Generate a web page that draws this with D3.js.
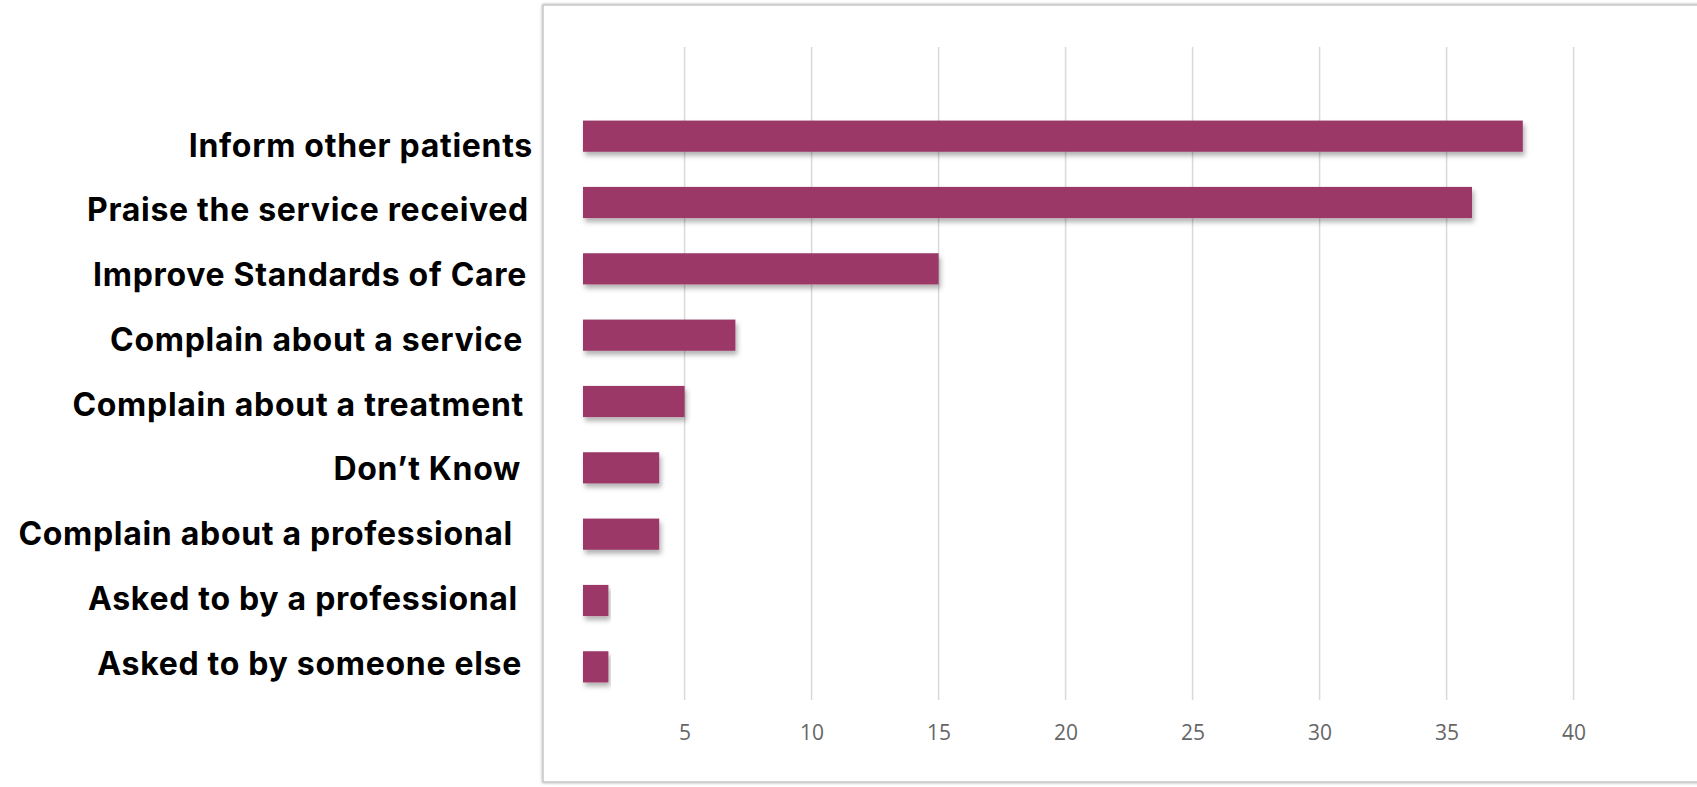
<!DOCTYPE html>
<html>
<head>
<meta charset="utf-8">
<script src="https://cdn.jsdelivr.net/npm/d3@7"></script>
<style>
  html, body { margin: 0; padding: 0; background: #fff; }
  svg { display: block; }
</style>
</head>
<body>
<svg id="chart" width="1697" height="787"></svg>
<script>
const categories = [
  "Inform other patients",
  "Praise the service received",
  "Improve Standards of Care",
  "Complain about a service",
  "Complain about a treatment",
  "Don\u2019t Know",
  "Complain about a professional",
  "Asked to by a professional",
  "Asked to by someone else"
];
const values = [38, 36, 15, 7, 5, 4, 4, 2, 2];
const tickValues = [5, 10, 15, 20, 25, 30, 35, 40];

// layout: right edge of each label text box (the source labels are not perfectly aligned)
const labelRight = [533, 529, 527, 523, 524, 521, 513, 518, 522];

const svg = d3.select("#chart");
const defs = svg.append("defs");

const frameShadow = defs.append("filter").attr("id", "frameShadow")
  .attr("x", "-5%").attr("y", "-5%").attr("width", "110%").attr("height", "110%");
frameShadow.append("feDropShadow").attr("dx", 0).attr("dy", 0)
  .attr("stdDeviation", 1.6).attr("flood-color", "#000").attr("flood-opacity", 0.35);

const barShadow = defs.append("filter").attr("id", "barShadow")
  .attr("x", "-10%").attr("y", "-30%").attr("width", "120%").attr("height", "180%");
barShadow.append("feDropShadow").attr("dx", 2).attr("dy", 4)
  .attr("stdDeviation", 2.5).attr("flood-color", "#000").attr("flood-opacity", 0.3);

// Frame of the chart panel
svg.append("rect")
  .attr("x", 543).attr("y", 5).attr("width", 1160).attr("height", 777)
  .attr("fill", "#fff").attr("stroke", "#c8c8c8").attr("stroke-width", 1.5)
  .attr("filter", "url(#frameShadow)");

const x = d3.scaleLinear().domain([1, 42]).range([583, 583 + 41 * 25.4]);
const y = d3.scaleBand().domain(categories).range([103, 700]).paddingInner(0.53).paddingOuter(0.265);
const yLabel = d3.scalePoint().domain(categories).range([145, 663]);

// Gridlines
const grid = svg.append("g");
grid.selectAll("line").data(tickValues).join("line")
  .attr("x1", d => x(d)).attr("x2", d => x(d))
  .attr("y1", 47).attr("y2", 700)
  .attr("stroke", "#d9d9d9").attr("stroke-width", 1.5);

// Axis tick labels
const xAxis = d3.axisBottom(x).tickValues(tickValues).tickSize(0).tickPadding(0);
const axisG = svg.append("g").attr("transform", "translate(0,725)").call(xAxis);
axisG.select(".domain").remove();
axisG.selectAll("text")
  .attr("font-family", "'Open Sans', sans-serif")
  .attr("font-size", 21)
  .attr("fill", "#666")
  .attr("dy", "0.71em");

// Bars
svg.append("g").selectAll("rect").data(values).join("rect")
  .attr("x", x(1))
  .attr("y", (d, i) => y(categories[i]))
  .attr("width", d => x(d) - x(1))
  .attr("height", y.bandwidth())
  .attr("fill", "#9b3767")
  .attr("filter", "url(#barShadow)");

// Category labels
svg.append("g").selectAll("text").data(categories).join("text")
  .attr("x", (d, i) => labelRight[i])
  .attr("y", d => yLabel(d))
  .attr("dy", "0.36em")
  .attr("text-anchor", "end")
  .attr("font-family", "Inter, 'Noto Sans', sans-serif")
  .attr("font-weight", 700)
  .attr("font-size", 32)
  .attr("letter-spacing", 0.7)
  .attr("fill", "#000")
  .text(d => d);
</script>
</body>
</html>
